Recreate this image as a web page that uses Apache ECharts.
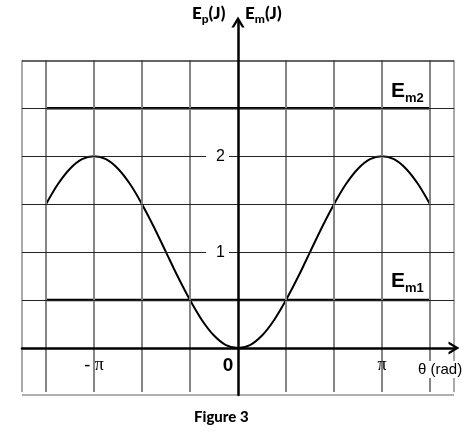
<!DOCTYPE html>
<html>
<head>
<meta charset="utf-8">
<script src="https://cdn.jsdelivr.net/npm/echarts@6/dist/echarts.min.js"></script>
<style>
html,body{margin:0;padding:0;background:#fff;}
#chart{width:471px;height:432px;}
</style>
</head>
<body>
<div id="chart"></div>
<script>
// theta in units of pi/12, from -16 (=-4pi/3) to 16 (=4pi/3)
const thetaTwelfths = [-16,-15,-14,-13,-12,-11,-10,-9,-8,-7,-6,-5,-4,-3,-2,-1,0,1,2,3,4,5,6,7,8,9,10,11,12,13,14,15,16];
// Ep (J)
const epValues = [1.5,1.71,1.87,1.97,2,1.97,1.87,1.71,1.5,1.26,1,0.74,0.5,0.29,0.13,0.03,0,0.03,0.13,0.29,0.5,0.74,1,1.26,1.5,1.71,1.87,1.97,2,1.97,1.87,1.71,1.5];
// Mechanical energy levels (J)
const em1 = 0.5;
const em2 = 2.5;
const emRange = [-4/3, 4/3]; // in units of pi
// grid lines (x in units of pi, y in J)
const xGridLines = [-1.5, -4/3, -1, -2/3, -1/3, 1/3, 2/3, 1, 4/3, 1.5];
const yGridLines = [0.5, 1, 1.5, 2, 2.5];
const yTop = 3;
const yBottom = -0.49;
const xTickValues = [-1, 0, 1];
const xTickLabels = ['- π', '0', 'π'];
const yTickValues = [1, 2];

const chart = echarts.init(document.getElementById('chart'), null, {renderer: 'canvas'});

const epData = thetaTwelfths.map((k, i) => [k / 12, epValues[i]]);

const gridMarks = [];
xGridLines.forEach(x => {
  const border = Math.abs(x) === 1.5;
  gridMarks.push([
    {coord: [x, yBottom + 0.03], lineStyle: {color: border ? '#aaaaaa' : '#858585', width: 2, type: 'solid'}},
    {coord: [x, yTop]}
  ]);
});
yGridLines.forEach(y => {
  gridMarks.push([
    {coord: [-1.5, y], lineStyle: {color: '#222222', width: 1, type: 'solid'}},
    {coord: [1.5, y]}
  ]);
});
gridMarks.push([
  {coord: [-1.5, yTop], lineStyle: {color: '#333333', width: 1.5, type: 'solid'}},
  {coord: [1.5, yTop]}
]);
gridMarks.push([
  {coord: [-1.5, yBottom], lineStyle: {color: '#b0b0b0', width: 2, type: 'solid'}},
  {coord: [1.5, yBottom]}
]);

const chevron = 'path://M0,10 L6,0 L12,10 L9.6,10 L6,4 L2.4,10 Z';

const option = {
  animation: false,
  backgroundColor: '#ffffff',
  grid: {left: 22, right: 17, top: 22, bottom: 37, containLabel: false},
  xAxis: {
    type: 'value', min: -1.5, max: 1.5, z: 5,
    axisLine: {onZero: true, lineStyle: {color: '#000', width: 2.5}, symbol: ['none', chevron], symbolSize: [14, 11]},
    axisTick: {show: false},
    splitLine: {show: false},
    axisLabel: {
      customValues: xTickValues,
      margin: -39,
      formatter: v => {
        const i = xTickValues.findIndex(t => Math.abs(t - v) < 1e-9);
        const t = i >= 0 ? xTickLabels[i] : '';
        return t === '0' ? '{z|0}' : '{p|' + t + '}';
      },
      rich: {
        z: {fontFamily: 'Liberation Sans', fontWeight: 'bold', fontSize: 19, color: '#000', padding: [0, 20, 0, 0]},
        p: {fontFamily: 'Liberation Serif', fontSize: 18, color: '#000'}
      }
    }
  },
  yAxis: {
    type: 'value', min: yBottom, max: 3.4, z: 5,
    axisLine: {onZero: true, lineStyle: {color: '#000', width: 2.5}, symbol: ['none', chevron], symbolSize: [14, 11]},
    axisTick: {show: false},
    splitLine: {show: false},
    axisLabel: {
      customValues: yTickValues,
      margin: -207,
      fontFamily: 'Liberation Sans', fontSize: 16, color: '#000',
      backgroundColor: '#fff', padding: [1, 4, 1, 10]
    }
  },
  series: [
    {
      type: 'line', data: [], z: 1, silent: true,
      markLine: {silent: true, symbol: ['none', 'none'], label: {show: false}, animation: false, data: gridMarks}
    },
    {
      type: 'line', data: [[emRange[0], em2], [emRange[1], em2]], showSymbol: false, z: 3,
      lineStyle: {color: '#000', width: 2.5}
    },
    {
      type: 'line', data: [[emRange[0], em1], [emRange[1], em1]], showSymbol: false, z: 3,
      lineStyle: {color: '#000', width: 2.5}
    },
    {
      type: 'line', data: epData, smooth: 0.3, showSymbol: false, z: 4,
      lineStyle: {color: '#000', width: 2}
    }
  ],
  graphic: [
    {type: 'text', left: 192, top: 5, z: 10, style: {
      text: '{b|E}{s|p}{b|(J)}', rich: {
        b: {fontFamily: 'Lato', fontWeight: 900, fontSize: 17, fill: '#000', verticalAlign: 'bottom', padding: [0,0,3,0]},
        s: {fontFamily: 'Lato', fontWeight: 900, fontSize: 12, fill: '#000', verticalAlign: 'bottom'}
      }}},
    {type: 'text', left: 245, top: 5, z: 10, style: {
      text: '{b|E}{s|m}{b|(J)}', rich: {
        b: {fontFamily: 'Lato', fontWeight: 900, fontSize: 17, fill: '#000', verticalAlign: 'bottom', padding: [0,0,3,0]},
        s: {fontFamily: 'Lato', fontWeight: 900, fontSize: 12, fill: '#000', verticalAlign: 'bottom'}
      }}},
    {type: 'text', left: 391, top: 81, z: 10, style: {
      text: '{b|E}{s|m2}', rich: {
        b: {fontFamily: 'Liberation Sans', fontWeight: 'bold', fontSize: 21, fill: '#000', verticalAlign: 'bottom', padding: [0,0,3,0]},
        s: {fontFamily: 'Liberation Sans', fontWeight: 'bold', fontSize: 13, fill: '#000', verticalAlign: 'bottom'}
      }}},
    {type: 'text', left: 391, top: 271, z: 10, style: {
      text: '{b|E}{s|m1}', rich: {
        b: {fontFamily: 'Liberation Sans', fontWeight: 'bold', fontSize: 21, fill: '#000', verticalAlign: 'bottom', padding: [0,0,3,0]},
        s: {fontFamily: 'Liberation Sans', fontWeight: 'bold', fontSize: 13, fill: '#000', verticalAlign: 'bottom'}
      }}},
    {type: 'text', left: 417, top: 361, z: 10, style: {
      text: 'θ (rad)', fontFamily: 'Liberation Sans', fontSize: 15, fill: '#000',
      backgroundColor: '#fff', padding: [1, 1]
    }},
    {type: 'text', left: 194, top: 410, z: 10, style: {
      text: 'Figure 3', fontFamily: 'Lato', fontWeight: 900, fontSize: 15, fill: '#000'
    }}
  ]
};
chart.setOption(option);
</script>
</body>
</html>
